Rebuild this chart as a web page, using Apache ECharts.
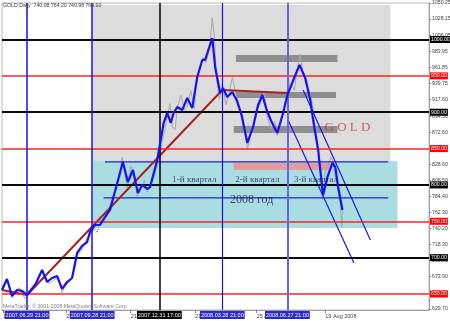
<!DOCTYPE html>
<html><head><meta charset="utf-8">
<script src="https://cdn.jsdelivr.net/npm/echarts@6/dist/echarts.min.js"></script>
<style>html,body{margin:0;padding:0;background:#fff}#c{width:450px;height:321px}</style>
</head><body><div id="c"></div>
<script>
// ---------- DATA ----------
const xRange = ['2007-05-25', '2009-01-11'];
const yRange = [628.0, 1050.25];

// smoothed (thick blue) price line
const smoothLine = [
 ['2007-05-25',655.5],['2007-06-01',670.7],['2007-06-08',647.3],['2007-06-15',655.5],['2007-06-22',654.2],
 ['2007-06-29',648.7],['2007-07-11',663.8],['2007-07-20',683.0],['2007-07-27',666.5],['2007-08-03',672.0],
 ['2007-08-10',674.8],['2007-08-17',657.0],['2007-08-24',666.5],['2007-08-31',672.0],['2007-09-07',706.4],
 ['2007-09-14',716.1],['2007-09-21',721.5],['2007-09-25',735.3],['2007-10-02',744.9],['2007-10-09',744.9],
 ['2007-10-16',755.9],['2007-10-23',765.6],['2007-11-10',831.6],['2007-11-17',804.1],['2007-11-24',820.6],
 ['2007-12-01',789.0],['2007-12-07',800.0],['2007-12-14',794.5],['2007-12-18',797.2],['2007-12-28',834.3],
 ['2008-01-06',885.2],['2008-01-11',899.0],['2008-01-16',885.2],['2008-01-20',899.0],['2008-01-25',907.2],
 ['2008-02-01',903.1],['2008-02-08',919.6],['2008-02-15',905.9],['2008-02-22',948.5],['2008-02-29',971.9],
 ['2008-03-04',971.9],['2008-03-14',1002.1],['2008-03-18',962.2],['2008-03-25',926.5],['2008-03-29',933.4],
 ['2008-04-04',921.0],['2008-04-11',927.9],['2008-04-17',916.8],['2008-04-24',896.2],['2008-05-02',857.7],
 ['2008-05-10',879.7],['2008-05-17',910.0],['2008-05-23',923.7],['2008-05-29',903.1],['2008-06-05',886.6],
 ['2008-06-13',871.5],['2008-06-21',899.0],['2008-06-27',923.7],['2008-07-01',933.4],['2008-07-07',948.5],
 ['2008-07-14',965.0],['2008-07-22',947.1],['2008-07-29',916.8],['2008-08-02',889.3],['2008-08-09',848.1],
 ['2008-08-15',793.1],['2008-08-16',786.2],['2008-08-22',810.9],['2008-08-29',830.2],['2008-09-02',824.7],
 ['2008-09-06',797.2],['2008-09-12',765.6]
];

// daily close (thin gray) line
const closeLine = [
 ['2007-05-25',658],['2007-05-30',668],['2007-06-04',662],['2007-06-08',645],['2007-06-13',652],['2007-06-18',659],
 ['2007-06-22',650],['2007-06-27',643],['2007-07-03',652],['2007-07-09',660],['2007-07-14',668],['2007-07-19',680],
 ['2007-07-24',676],['2007-07-30',664],['2007-08-04',668],['2007-08-09',672],['2007-08-14',664],['2007-08-17',652],
 ['2007-08-22',662],['2007-08-28',667],['2007-09-03',683],['2007-09-07',703],['2007-09-12',708],['2007-09-17',718],
 ['2007-09-21',727],['2007-09-26',731],['2007-10-01',740],['2007-10-05',735],['2007-10-10',752],['2007-10-15',748],
 ['2007-10-20',764],['2007-10-26',782],['2007-11-01',796],['2007-11-06',812],['2007-11-09',838],['2007-11-13',812],
 ['2007-11-16',796],['2007-11-21',826],['2007-11-26',818],['2007-11-30',784],['2007-12-05',795],['2007-12-10',806],
 ['2007-12-14',790],['2007-12-19',798],['2007-12-24',812],['2007-12-31',836],['2008-01-04',860],['2008-01-08',878],
 ['2008-01-11',895],['2008-01-15',912],['2008-01-18',880],['2008-01-22',876],['2008-01-25',905],['2008-01-30',924],
 ['2008-02-04',903],['2008-02-08',908],['2008-02-13',930],['2008-02-18',905],['2008-02-21',945],['2008-02-26',962],
 ['2008-03-01',975],['2008-03-05',968],['2008-03-10',985],['2008-03-14',1030],['2008-03-17',1003],['2008-03-20',945],
 ['2008-03-24',918],['2008-03-28',940],['2008-04-02',910],['2008-04-07',928],['2008-04-11',948],['2008-04-16',925],
 ['2008-04-21',910],['2008-04-25',885],['2008-04-30',868],['2008-05-02',848],['2008-05-07',870],['2008-05-12',885],
 ['2008-05-16',903],['2008-05-21',915],['2008-05-26',928],['2008-05-30',895],['2008-06-04',877],['2008-06-09',888],
 ['2008-06-13',868],['2008-06-18',890],['2008-06-23',905],['2008-06-27',930],['2008-07-02',940],['2008-07-07',930],
 ['2008-07-10',955],['2008-07-15',980],['2008-07-18',958],['2008-07-23',938],['2008-07-28',928],['2008-08-01',912],
 ['2008-08-05',880],['2008-08-08',860],['2008-08-12',818],['2008-08-14',790],['2008-08-15',780],['2008-08-19',818],
 ['2008-08-22',826],['2008-08-27',838],['2008-08-29',834],['2008-09-03',806],['2008-09-05',796],['2008-09-09',772],
 ['2008-09-11',742],['2008-09-12',765]
];

// brown trend line
const trendLine = [['2007-05-25',655.5],['2007-06-29',648.7],['2008-03-28',930.6],['2008-06-28',926.5]];

// thin blue drawn lines
const diagA = [['2008-06-28',889.3],['2008-09-28',692.7]];
const diagB = [['2008-07-19',930.6],['2008-10-21',724.3]];
const channelTop = [['2007-10-16',831.6],['2008-11-15',831.6]];
const channelBottom = [['2007-10-14',782.1],['2008-11-15',782.1]];

// rectangles [from-date, from-price, to-date, to-price]
const grayBox = ['2007-09-28',1047.5,'2008-11-18',832.9];
const cyanBox = ['2007-09-29',832.9,'2008-11-28',740.8];
const band1 = ['2008-04-16',978.7,'2008-09-05',969.1];
const band2 = ['2008-04-16',927.9,'2008-09-03',919.6];
const band3 = ['2008-04-13',881.1,'2008-09-05',871.5];
const pinkBand = ['2008-04-13',830.2,'2008-08-26',820.6];

// horizontal levels
const blackLevels = [1000, 900, 800, 700];
const redLevels = [950, 850, 750, 650];
const bidPrice = 764.90;

// vertical quarter lines
const vDates = ['2007-06-29','2007-09-28','2007-12-31','2008-03-28','2008-06-27'];
const vTexts = ['2007.06.29 21:00','2007.09.28 21:00','2007.12.31 17:00','2008.03.28 21:00','2008.06.27 21:00'];

// axis tick labels
const yTicks = [1050.25,1028.15,1006.05,983.95,961.85,939.75,917.60,894.50,872.60,850.50,828.60,806.50,784.40,762.30,740.20,718.30,696.00,673.90,651.80,629.70];
const xTickDates = ['2007-05-27','2007-08-23','2007-11-21','2008-02-19','2008-05-15','2008-08-19'];
const xTickTexts = ['20 Jun 2007','23 Aug 2007','21 Nov 2007','21 Feb 2008','25 Apr 2008','19 Aug 2008'];

// text annotations
const notes = [
 {d:'2008-02-18', v:806.8, text:'1-й квартал'},
 {d:'2008-05-16', v:806.8, text:'2-й квартал'},
 {d:'2008-08-06', v:806.8, text:'3-й квартал'},
 {d:'2008-05-08', v:779.3, text:'2008 год'},
 {d:'2008-09-19', v:878.3, text:'G O L D'}
];

// ---------- BUILD ----------
const T = s => Date.parse(s + 'T00:00:00Z');
const pts = arr => arr.map(p => [T(p[0]), p[1]]);
const rect = (r, color) => [{coord:[T(r[0]), r[1]], itemStyle:{color:color, opacity:1}}, {coord:[T(r[2]), r[3]]}];
const FONT = "'Liberation Sans', sans-serif";
const FS = 5.2;
const xTickVals = xTickDates.map(T);
const xTickMap = {}; xTickVals.forEach((v,i)=>xTickMap[v]=xTickTexts[i]);

const hLine = (v, color, width, bg) => ({
  yAxis: v,
  lineStyle: {color: color, width: width, type: 'solid'},
  label: {show: true, position: 'end', distance: 1, formatter: v.toFixed(2), color: '#fff',
          backgroundColor: bg, fontSize: FS, fontFamily: FONT, padding: [1, 1, 1, 1]}
});
const vStyles = [
  {c:'#1414e0', w:1.5, bg:'#2a2ac8'},
  {c:'#1414e0', w:1.5, bg:'#2a2ac8'},
  {c:'#000000', w:1.5, bg:'#000000'},
  {c:'#1818c8', w:1.2, bg:'#2a2ac8'},
  {c:'#6464e6', w:2, bg:'#2a2ac8'}
];
const vLines = vDates.map((d, i) => ({
  xAxis: T(d),
  lineStyle: {color: vStyles[i].c, width: vStyles[i].w, type: 'solid'},
  label: {show: true, position: 'start', distance: 1, formatter: vTexts[i], color: '#fff',
          backgroundColor: vStyles[i].bg, fontSize: 5.5, fontFamily: FONT, padding: [1, 1, 1, 1]}
}));

const thin = (data, color, w, z) => ({type:'line', data: pts(data), showSymbol:false, symbol:'none', silent:true,
   lineStyle:{color:color, width:w}, z:z});

const noteStyle = [
 {fontSize:9, color:'#1c2050'}, {fontSize:9, color:'#1c2050'}, {fontSize:9, color:'#1c2050'},
 {fontSize:12, color:'#1c1c40'}, {fontSize:13, color:'#d03838'}
];

const option = {
  animation: false,
  backgroundColor: '#ffffff',
  title: [
    {text:'GOLD,Daily  740.98 764.20 740.98 764.90', left:3, top:3, padding:0, z:10,
     textStyle:{fontSize:FS, fontWeight:'normal', color:'#404040', fontFamily:FONT}},
    {text:'MetaTrader, © 2001-2008 MetaQuotes Software Corp.', left:3, top:304, padding:0, z:10,
     textStyle:{fontSize:FS, fontWeight:'normal', color:'#808080', fontFamily:FONT}}
  ],
  grid: {left:2, right:21, top:3, bottom:11, outerBoundsMode:'none', containLabel:false,
         show:true, borderColor:'#b8b8b8', borderWidth:1, backgroundColor:'#fff'},
  xAxis: {
    type:'value', min:T(xRange[0]), max:T(xRange[1]),
    splitLine:{show:false},
    axisLine:{show:true, lineStyle:{color:'#a0a0a0'}},
    axisTick:{show:true, customValues:xTickVals, length:3, lineStyle:{color:'#808080'}},
    axisLabel:{customValues:xTickVals, formatter:v=>xTickMap[v]||'', fontSize:5.5, color:'#404040',
               fontFamily:FONT, align:'left', margin:3}
  },
  yAxis: {
    type:'value', position:'right', min:yRange[0], max:yRange[1],
    splitLine:{show:false},
    axisLine:{show:true, lineStyle:{color:'#a0a0a0'}},
    axisTick:{show:true, customValues:yTicks, length:2, lineStyle:{color:'#808080'}},
    axisLabel:{customValues:yTicks, formatter:v=>v.toFixed(2), fontSize:FS, color:'#404040', fontFamily:FONT, margin:3}
  },
  series: [
    {type:'line', data:[], silent:true, z:1,
     markArea:{silent:true, data:[
       rect(grayBox,'#dcdcdc'), rect(cyanBox,'#a9dde2'),
       rect(band1,'#8e8e8e'), rect(band2,'#8e8e8e'), rect(band3,'#8e8e8e'), rect(pinkBand,'#e39c9c')
     ]}},
    {type:'line', data:[], silent:true, z:2,
     markLine:{silent:true, symbol:['none','none'], animation:false, data:[
       ...blackLevels.map(v=>hLine(v,'#0a0a0a',2,'#000000')),
       ...redLevels.map(v=>hLine(v,'#ff2020',1.5,'#ff0000')),
       {yAxis:bidPrice, lineStyle:{opacity:0}, label:{show:true, position:'end', distance:1,
         formatter:bidPrice.toFixed(2), color:'#202020', backgroundColor:'#b4b4b4', fontSize:FS, fontFamily:FONT, padding:[1,1,1,1]}},
       ...vLines
     ]}},
    thin(closeLine,'#a8a8a8',1,3),
    thin(channelTop,'#2020d0',1.2,4),
    thin(channelBottom,'#2020d0',1.2,4),
    thin(trendLine,'#a82020',2,4),
    thin(diagA,'#1a1ae0',1.2,4),
    thin(diagB,'#1a1ae0',1.2,4),
    thin(smoothLine,'#1414f0',2.2,5),
    {type:'scatter', symbolSize:0, silent:true, z:6,
     data: notes.map((n,i)=>({value:[T(n.d), n.v], name:n.text,
       label:{show:true, position:'inside', formatter:'{b}', fontFamily:'Liberation Serif',
              fontSize:noteStyle[i].fontSize, color:noteStyle[i].color}}))}
  ]
};
echarts.init(document.getElementById('c')).setOption(option);
</script></body></html>
